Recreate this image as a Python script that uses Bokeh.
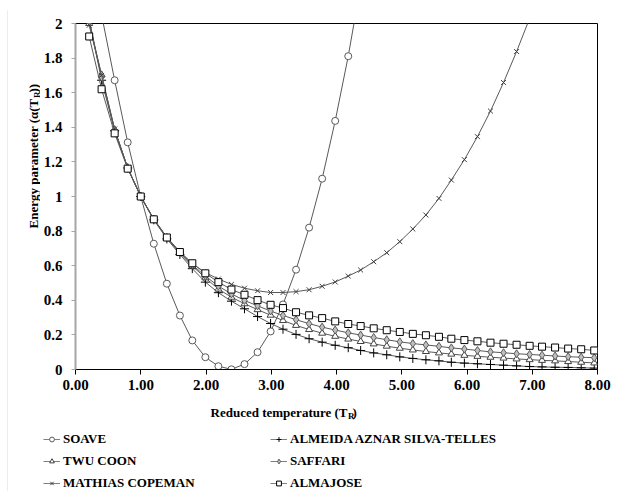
import math
from bokeh.plotting import figure
from bokeh.layouts import column, row
from bokeh.models import (Range1d, FixedTicker, CustomJSTickFormatter, NumeralTickFormatter,
                          Legend, LegendItem, Label)
from bokeh.embed import file_html
from bokeh.resources import INLINE

# Reduced temperature of each computed point
TR = [0.21, 0.40, 0.60, 0.80, 1.00, 1.20, 1.40, 1.60, 1.79, 1.99,
      2.19, 2.39, 2.59, 2.79, 2.99, 3.18, 3.38, 3.58, 3.78, 3.98,
      4.18, 4.37, 4.57, 4.77, 4.97, 5.17, 5.37, 5.57, 5.76, 5.96,
      6.16, 6.36, 6.56, 6.76, 6.96, 7.15, 7.35, 7.55, 7.75, 7.95]

SOAVE = [2.55, 2.05, 1.672, 1.313, 1.0, 0.727, 0.496, 0.312, 0.168, 0.071,
         0.019, 0.001, 0.031, 0.100, 0.220, 0.376, 0.577, 0.820, 1.103, 1.437,
         1.811, 2.22]

AAST = [2.02, 1.672, 1.38, 1.165, 1.0, 0.865, 0.755, 0.665, 0.583, 0.505,
        0.444, 0.395, 0.351, 0.306, 0.266, 0.233, 0.203, 0.178, 0.158, 0.140,
        0.126, 0.110, 0.096, 0.085, 0.073, 0.064, 0.056, 0.050, 0.042, 0.037,
        0.033, 0.029, 0.025, 0.021, 0.017, 0.015, 0.013, 0.012, 0.010, 0.008]

TWU = [2.0, 1.703, 1.385, 1.165, 1.0, 0.868, 0.762, 0.672, 0.598, 0.530,
       0.465, 0.418, 0.380, 0.346, 0.314, 0.283, 0.255, 0.231, 0.210, 0.192,
       0.176, 0.162, 0.148, 0.135, 0.123, 0.113, 0.104, 0.096, 0.089, 0.082,
       0.076, 0.071, 0.066, 0.061, 0.057, 0.053, 0.050, 0.046, 0.042, 0.038]

SAFFARI = [2.02, 1.69, 1.385, 1.165, 1.0, 0.868, 0.763, 0.675, 0.605, 0.540,
           0.482, 0.437, 0.399, 0.368, 0.338, 0.312, 0.288, 0.265, 0.245, 0.228,
           0.212, 0.199, 0.185, 0.172, 0.160, 0.150, 0.142, 0.134, 0.125, 0.118,
           0.110, 0.102, 0.097, 0.091, 0.087, 0.083, 0.078, 0.074, 0.071, 0.068]

MC = [1.99, 1.70, 1.39, 1.165, 1.0, 0.870, 0.765, 0.680, 0.612, 0.560,
      0.523, 0.492, 0.470, 0.455, 0.445, 0.445, 0.450, 0.461, 0.481, 0.506,
      0.540, 0.575, 0.623, 0.675, 0.739, 0.812, 0.893, 0.989, 1.095, 1.213,
      1.346, 1.494, 1.659, 1.838, 2.03]

ALMAJOSE = [1.925, 1.62, 1.365, 1.161, 1.0, 0.868, 0.763, 0.679, 0.614, 0.556,
            0.505, 0.462, 0.432, 0.401, 0.374, 0.355, 0.331, 0.313, 0.297, 0.278,
            0.263, 0.251, 0.238, 0.227, 0.217, 0.206, 0.198, 0.189, 0.178, 0.170,
            0.163, 0.155, 0.149, 0.143, 0.137, 0.132, 0.127, 0.121, 0.117, 0.110]

X_TICKS = [0, 1, 2, 3, 4, 5, 6, 7, 8]
Y_TICKS = [0, 0.2, 0.4, 0.6, 0.8, 1.0, 1.2, 1.4, 1.6, 1.8, 2.0]

FONT = "Liberation Serif"
LINE = "#595959"
STYLES = [
    ("SOAVE", SOAVE, dict(marker="circle", size=7, line_color="#595959", fill_color="white")),
    ("ALMEIDA AZNAR SILVA-TELLES", AAST, dict(marker="cross", size=9, line_color="black", fill_color=None)),
    ("TWU COON", TWU, dict(marker="triangle", size=7, line_color="#404040", fill_color="white")),
    ("SAFFARI", SAFFARI, dict(marker="diamond", size=8, line_color="#595959", fill_color="#bfbfbf")),
    ("MATHIAS COPEMAN", MC, dict(marker="x", size=7, line_color="#404040", fill_color=None)),
    ("ALMAJOSE", ALMAJOSE, dict(marker="square", size=7, line_color="black", fill_color="white")),
]

# ---------------- main plot ----------------
p = figure(width=575, height=388, output_backend="svg", toolbar_location=None,
           x_range=Range1d(0, 8), y_range=Range1d(0, 2),
           min_border_left=33, min_border_right=18, min_border_top=12, min_border_bottom=30)
p.background_fill_color = "white"
p.border_fill_color = "white"
p.outline_line_color = "black"
p.outline_line_width = 1
p.xgrid.visible = False
p.ygrid.visible = False

p.xaxis.ticker = FixedTicker(ticks=X_TICKS)
p.yaxis.ticker = FixedTicker(ticks=Y_TICKS)
p.xaxis.formatter = NumeralTickFormatter(format="0.00")
p.yaxis.formatter = CustomJSTickFormatter(code="return String(Math.round(tick*10)/10);")
for ax in (p.xaxis, p.yaxis):
    ax.major_label_text_font = FONT
    ax.major_label_text_font_style = "bold"
    ax.major_label_text_font_size = "15px"
    ax.major_label_text_color = "black"
    ax.minor_tick_line_color = None
    ax.major_tick_in = 0
p.xaxis.axis_line_color = "black"
p.xaxis.major_tick_line_color = "black"
p.xaxis.major_tick_out = 5
p.xaxis.major_label_standoff = 5
p.yaxis.axis_line_color = "#a6a6a6"
p.yaxis.axis_line_width = 2
p.yaxis.major_tick_line_color = "#a6a6a6"
p.yaxis.major_tick_out = 4
p.yaxis.major_label_standoff = 9

for name, ys, mk in STYLES:
    xs = TR[:len(ys)]
    p.line(xs, ys, line_color=LINE, line_width=1)
    p.scatter(xs, ys, line_width=1, **mk)


def bare(w, h, fill="white"):
    f = figure(width=w, height=h, output_backend="svg", toolbar_location=None,
               x_axis_location=None, y_axis_location=None,
               x_range=Range1d(0, 1), y_range=Range1d(0, 1),
               min_border=0, min_border_left=0, min_border_right=0,
               min_border_top=0, min_border_bottom=0)
    f.outline_line_color = None
    f.xgrid.visible = False
    f.ygrid.visible = False
    f.background_fill_color = fill
    f.border_fill_color = fill
    return f


def lab(f, text, x, y, size, align, angle=0.0):
    f.add_layout(Label(text=text, x=x, y=y, x_units="screen", y_units="screen",
                       text_font=FONT, text_font_style="bold", text_font_size=size,
                       text_align=align, text_baseline="alphabetic", text_color="black",
                       angle=angle))


# ---------------- chart-area border strips ----------------
left_strip = bare(1, 481, "#d9d9d9")
top_strip = bare(607, 1, "#d9d9d9")

# ---------------- y-axis title strip ----------------
yfig = bare(32, 388)
lab(yfig, "Energy parameter (\u03b1(T", 25, 271, "13px", "right", math.pi / 2)
lab(yfig, "R", 28, 271.5, "9px", "left", math.pi / 2)
lab(yfig, "))", 25, 277, "13px", "left", math.pi / 2)

# ---------------- x-axis title and legend strip ----------------
bfig = bare(607, 92)
lab(bfig, "Reduced temperature (T", 339, 79, "13px", "right")
lab(bfig, "R", 339.5, 76, "9px", "left")
lab(bfig, ")", 344, 79, "13px", "left")

items = {}
for name, ys, mk in STYLES:
    rl = bfig.line([-10, -9], [-10, -9], line_color="#7f7f7f", line_width=1)
    rs = bfig.scatter([-10], [-10], line_width=1, **mk)
    items[name] = [rl, rs]


def make_legend(names, x):
    lg = Legend(items=[LegendItem(label=n, renderers=items[n]) for n in names],
                location=(x, 0), orientation="vertical",
                padding=0, margin=0, spacing=6, glyph_width=17, glyph_height=12,
                label_height=16, label_standoff=3,
                label_text_font=FONT, label_text_font_style="bold",
                label_text_font_size="13px", label_text_color="black",
                border_line_color=None, background_fill_alpha=0)
    bfig.add_layout(lg, "center")


make_legend(["SOAVE", "TWU COON", "MATHIAS COPEMAN"], 35)
make_legend(["ALMEIDA AZNAR SILVA-TELLES", "SAFFARI", "ALMAJOSE"], 262)

inner = column(top_strip, row(yfig, p, spacing=0), bfig, spacing=0)
layout = row(left_strip, inner, spacing=0, margin=(10, 0, 0, 7))

open("out.html", "w").write(file_html(layout, INLINE))
